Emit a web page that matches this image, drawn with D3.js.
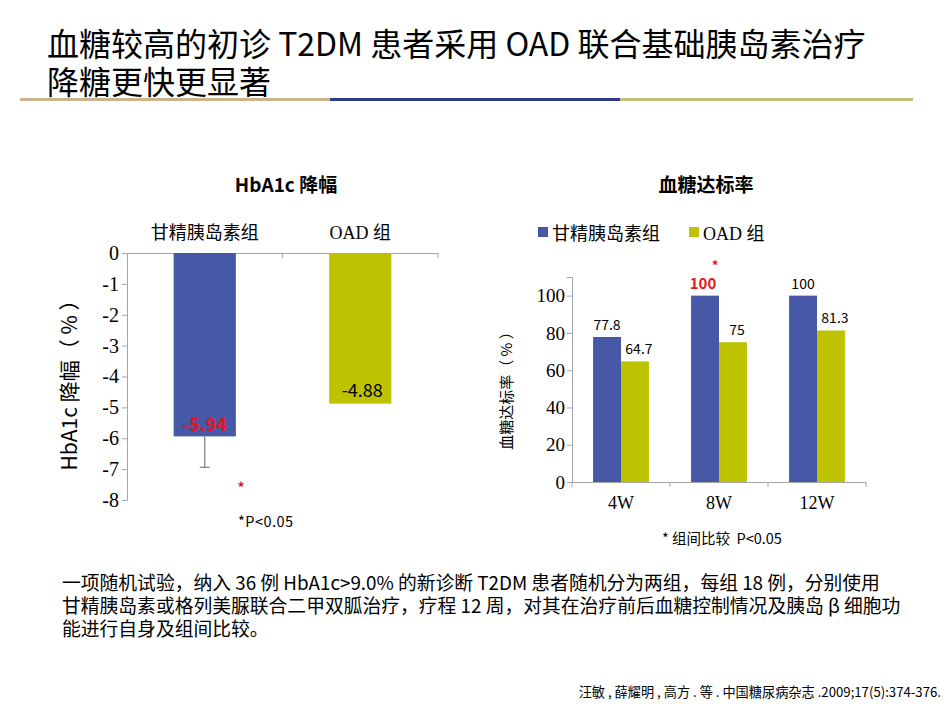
<!DOCTYPE html>
<html>
<head>
<meta charset="utf-8">
<script src="https://d3js.org/d3.v7.min.js"></script>
<style>
  body { margin: 0; background: #fff; }
  text { font-family: "Noto Sans CJK SC", "Open Sans", sans-serif; white-space: pre; }
  .serif { font-family: "Liberation Serif", "Noto Sans CJK SC", serif; }
</style>
</head>
<body>
<div id="chart"></div>
<script>
// data
var groups = ["甘精胰岛素组", "OAD 组"];
var hba1cDrop = [-5.94, -4.88];
var hba1cErr = [1.0, 0];
var hbTicks = [0, -1, -2, -3, -4, -5, -6, -7, -8];

var weeks = ["4W", "8W", "12W"];
var series = ["甘精胰岛素组", "OAD 组"];
var rateGlargine = [77.8, 100, 100];
var rateOAD = [64.7, 75, 81.3];
var rateTicks = [0, 20, 40, 60, 80, 100];

var blue = "#4658a6", olive = "#bec300", axisCol = "#a6a6a6";

var width = 950, height = 713;
var svg = d3.select("#chart").append("svg")
  .attr("width", width).attr("height", height);

// ---- slide title
var title = svg.append("text").attr("x", 47).attr("y", 56)
  .style("font-size", "32px").attr("fill", "#000");
title.append("tspan").text("血糖较高的初诊 T2DM 患者采用 OAD 联合基础胰岛素治疗");
title.append("tspan").attr("x", 47).attr("y", 94).text("降糖更快更显著");

// three-colour rule under the title
var rule = [[20, 330, "#cbb38e"], [330, 620, "#2d3b8a"], [620, 913, "#c2c07a"]];
svg.selectAll(".rule").data(rule).enter().append("rect")
  .attr("x", function(d) { return d[0]; }).attr("y", 98)
  .attr("width", function(d) { return d[1] - d[0]; }).attr("height", 3)
  .attr("fill", function(d) { return d[2]; });

// ---- left chart: HbA1c drop
var xL = d3.scaleBand().domain(groups).range([127, 438]).paddingInner(0.6).paddingOuter(0.3);
var yL = d3.scaleLinear().domain([-8, 0]).range([500, 253]);

svg.append("text").attr("x", 286).attr("y", 192).attr("text-anchor", "middle")
  .style("font-size", "19px").style("font-weight", "bold").text("HbA1c 降幅");

// y axis
var axL = svg.append("g").attr("transform", "translate(127,0)")
  .call(d3.axisLeft(yL).tickValues(hbTicks).tickSize(5).tickFormat(d3.format("d")));
axL.select(".domain").attr("stroke", axisCol);
axL.selectAll(".tick line").attr("stroke", axisCol);
axL.selectAll(".tick text").attr("class", "serif").style("font-size", "20px")
  .attr("fill", "#000").attr("x", -8).text(function(d) { return d === 0 ? "0" : "-" + Math.abs(d); });

// top axis line with category ticks
var axT = svg.append("g").attr("transform", "translate(0," + yL(0) + ")")
  .call(d3.axisBottom(xL.copy().paddingInner(0).paddingOuter(0)).tickSize(0).tickFormat(""));
axT.select(".domain").attr("stroke", axisCol);
svg.append("g").selectAll("line").data([1, 2]).enter().append("line")
  .attr("x1", function(d) { return 127 + d * xL.step(); })
  .attr("x2", function(d) { return 127 + d * xL.step(); })
  .attr("y1", yL(0)).attr("y2", yL(0) + 5).attr("stroke", axisCol);

// category labels above
svg.selectAll(".catL").data(groups).enter().append("text")
  .attr("x", function(d) { return xL(d) + xL.bandwidth() / 2; })
  .attr("y", 239).attr("text-anchor", "middle").style("font-size", "18px")
  .each(function(d) {
    if (d === "OAD 组") {
      d3.select(this).append("tspan").attr("class", "serif").text("OAD ");
      d3.select(this).append("tspan").text("组");
    } else {
      d3.select(this).text(d);
    }
  });

// bars
svg.selectAll(".barL").data(hba1cDrop).enter().append("rect")
  .attr("x", function(d, i) { return xL(groups[i]); })
  .attr("y", yL(0))
  .attr("width", xL.bandwidth())
  .attr("height", function(d) { return yL(d) - yL(0); })
  .attr("fill", function(d, i) { return i === 0 ? blue : olive; });

// error bar on first group
var cx0 = xL(groups[0]) + xL.bandwidth() / 2;
svg.append("line").attr("x1", cx0).attr("x2", cx0)
  .attr("y1", yL(hba1cDrop[0])).attr("y2", yL(hba1cDrop[0] - hba1cErr[0]))
  .attr("stroke", "#7f7f7f").attr("stroke-width", 1.2);
svg.append("line").attr("x1", cx0 - 5).attr("x2", cx0 + 5)
  .attr("y1", yL(hba1cDrop[0] - hba1cErr[0])).attr("y2", yL(hba1cDrop[0] - hba1cErr[0]))
  .attr("stroke", "#7f7f7f").attr("stroke-width", 1.2);

// value labels
svg.append("text").attr("x", cx0).attr("y", yL(hba1cDrop[0]) - 5)
  .attr("text-anchor", "middle").style("font-size", "18px").style("font-weight", "bold")
  .attr("fill", "#e8141c").text(hba1cDrop[0].toFixed(2));
svg.append("text").attr("x", xL(groups[1]) + xL.bandwidth() / 2 + 2).attr("y", yL(hba1cDrop[1]) - 7)
  .attr("text-anchor", "middle").style("font-size", "18px")
  .attr("fill", "#000").text(hba1cDrop[1].toFixed(2));

svg.append("text").attr("x", 241).attr("y", 493).attr("text-anchor", "middle")
  .style("font-size", "14px").style("font-weight", "bold").attr("fill", "#e8141c").text("*");
svg.append("text").attr("x", 238).attr("y", 527)
  .style("font-size", "14.5px").style("letter-spacing", "0.5px").attr("fill", "#000").text("*P<0.05");

// y label
svg.append("text").attr("transform", "translate(77,380) rotate(-90)")
  .attr("text-anchor", "middle").style("font-size", "21px").text("HbA1c 降幅（ % ）");

// ---- right chart: target rate
var x0 = d3.scaleBand().domain(weeks).range([572, 866]).paddingInner(0.43).paddingOuter(0.215);
var x1 = d3.scaleBand().domain(series).range([0, x0.bandwidth()]);
var yR = d3.scaleLinear().domain([0, 110]).range([482, 277]);

svg.append("text").attr("x", 706).attr("y", 192).attr("text-anchor", "middle")
  .style("font-size", "19px").style("font-weight", "bold").text("血糖达标率");

// legend
var legend = svg.append("g");
var legX = [538, 689];
series.forEach(function(s, i) {
  legend.append("rect").attr("x", legX[i]).attr("y", 227).attr("width", 10).attr("height", 10)
    .attr("fill", i === 0 ? blue : olive);
  var t = legend.append("text").attr("x", legX[i] + 14).attr("y", 240).style("font-size", "18px");
  if (i === 1) {
    t.append("tspan").attr("class", "serif").text("OAD ");
    t.append("tspan").text("组");
  } else t.text(s);
});

// axes
var ayR = svg.append("g").attr("transform", "translate(572,0)")
  .call(d3.axisLeft(yR).tickValues(rateTicks).tickSize(5));
ayR.select(".domain").attr("stroke", axisCol);
ayR.selectAll(".tick line").attr("stroke", axisCol);
ayR.selectAll(".tick text").attr("class", "serif").style("font-size", "19px").attr("fill", "#000").attr("x", -7);

var axR = svg.append("g").attr("transform", "translate(0,482)")
  .call(d3.axisBottom(x0).tickSize(0));
axR.select(".domain").attr("stroke", axisCol);
axR.selectAll(".tick text").attr("class", "serif").style("font-size", "18px").attr("fill", "#000").attr("dy", "1.35em");
svg.append("g").selectAll("line").data([0, 1, 2, 3]).enter().append("line")
  .attr("x1", function(d) { return 572 + d * x0.step(); })
  .attr("x2", function(d) { return 572 + d * x0.step(); })
  .attr("y1", 482).attr("y2", 487).attr("stroke", axisCol);

// bars
var rows = weeks.map(function(w, i) {
  return { week: w, vals: [{ s: series[0], v: rateGlargine[i] }, { s: series[1], v: rateOAD[i] }] };
});
var grp = svg.selectAll(".wk").data(rows).enter().append("g")
  .attr("transform", function(d) { return "translate(" + x0(d.week) + ",0)"; });
grp.selectAll("rect").data(function(d) { return d.vals; }).enter().append("rect")
  .attr("x", function(d) { return x1(d.s); })
  .attr("y", function(d) { return yR(d.v); })
  .attr("width", x1.bandwidth())
  .attr("height", function(d) { return yR(0) - yR(d.v); })
  .attr("fill", function(d, i) { return i === 0 ? blue : olive; });
grp.each(function(d) {
  var g = d3.select(this);
  d.vals.forEach(function(v, i) {
    var red = d.week === "8W" && i === 0;
    g.append("text")
      .attr("x", x1(v.s) + x1.bandwidth() / 2 + (i === 1 ? 4 : 0) - (red ? 2 : 0))
      .attr("y", yR(v.v) - 7)
      .attr("text-anchor", "middle")
      .style("font-size", red ? "15px" : "14px")
      .style("font-weight", red ? "bold" : "normal")
      .attr("fill", red ? "#e8141c" : "#000")
      .text(v.v);
    if (red) {
      g.append("text").attr("x", x1(v.s) + x1.bandwidth() / 2 + 10).attr("y", yR(v.v) - 26)
        .attr("text-anchor", "middle").style("font-size", "13px").style("font-weight", "bold")
        .attr("fill", "#e8141c").text("*");
    }
  });
});

svg.append("text").attr("transform", "translate(512,387) rotate(-90)")
  .attr("text-anchor", "middle").style("font-size", "15px").text("血糖达标率（ % ）");

svg.append("text").attr("x", 662).attr("y", 544)
  .style("font-size", "14.5px").attr("fill", "#000").text("* 组间比较  P<0.05");

// ---- description text
var desc = [
  "一项随机试验，纳入 36 例 HbA1c>9.0% 的新诊断 T2DM 患者随机分为两组，每组 18 例，分别使用",
  "甘精胰岛素或格列美脲联合二甲双胍治疗，疗程 12 周，对其在治疗前后血糖控制情况及胰岛 β 细胞功",
  "能进行自身及组间比较。"
];
svg.selectAll(".desc").data(desc).enter().append("text")
  .attr("x", 62).attr("y", function(d, i) { return 590 + i * 23; })
  .style("font-size", "18.8px").attr("fill", "#000").text(function(d) { return d; });

svg.append("text").attr("x", 941).attr("y", 697).attr("text-anchor", "end")
  .style("font-size", "13.2px").attr("fill", "#000")
  .text("汪敏 , 薛耀明 , 高方 . 等 . 中国糖尿病杂志 .2009;17(5):374-376.");
</script>
</body>
</html>
